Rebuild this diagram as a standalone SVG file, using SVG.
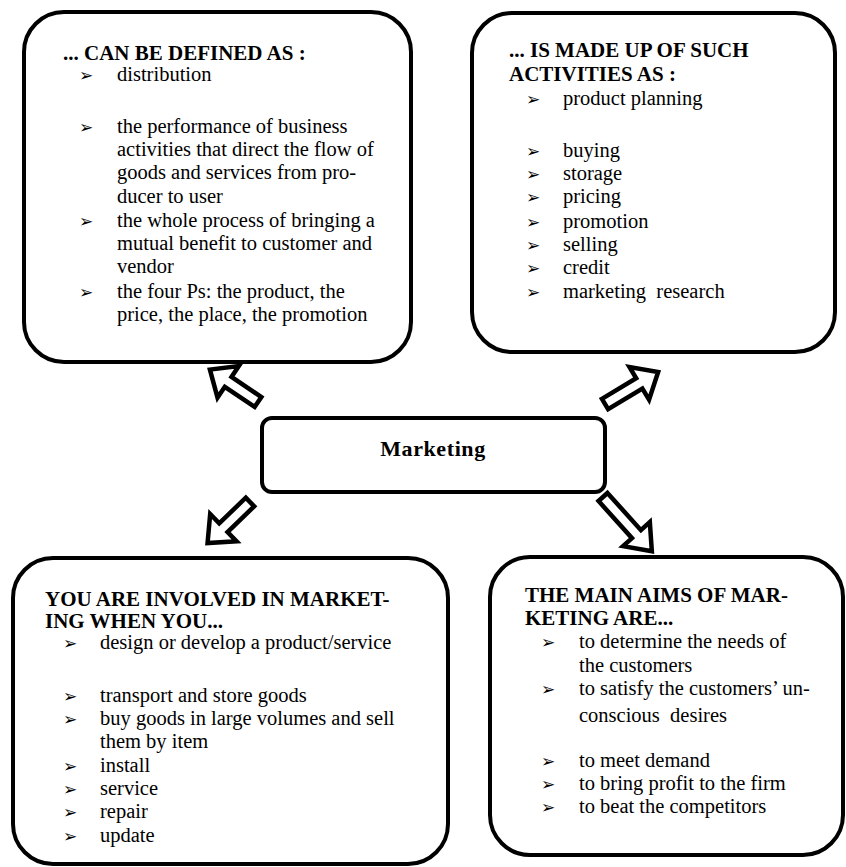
<svg xmlns="http://www.w3.org/2000/svg" width="846" height="867" viewBox="0 0 846 867">
<style>
.box{fill:#fff;stroke:#000;stroke-width:4}
.t{font-family:"Liberation Serif","Times New Roman",serif;font-size:20.5px;fill:#000}
.h{font-family:"Liberation Serif","Times New Roman",serif;font-size:21px;font-weight:bold;fill:#000}
.m{font-family:"Liberation Serif","Times New Roman",serif;font-size:22px;font-weight:bold;letter-spacing:0.6px;fill:#000}
.b{font-family:"DejaVu Sans",sans-serif;font-size:17px;font-weight:bold;fill:#000}
.arr{fill:#fff;stroke:#000;stroke-width:4.5;stroke-linejoin:miter}
</style>
<rect width="846" height="867" fill="#fff"/>
<g id="connectors">
<polygon class="arr" transform="translate(258,402) rotate(214)" points="0,-6 36,-6 36,-19 58,0 36,19 36,6 0,6"/>
<polygon class="arr" transform="translate(605,404) rotate(-31)" points="0,-6 40,-6 40,-19 62,0 40,19 40,6 0,6"/>
<polygon class="arr" transform="translate(250,502) rotate(136)" points="0,-6 37,-6 37,-19 59,0 37,19 37,6 0,6"/>
<polygon class="arr" transform="translate(603,497) rotate(48)" points="0,-6 50,-6 50,-18 73,0 50,18 50,6 0,6"/>
</g>
<g id="center">
<rect class="box" x="262" y="418" width="343" height="74" rx="10"/>
<text class="m" x="433" y="456" text-anchor="middle">Marketing</text>
</g>
<g id="defined">
<rect class="box" x="24" y="12" width="387" height="350" rx="40"/>
<text class="h" x="63" y="60">... CAN BE DEFINED AS :</text>
<text class="b" x="79" y="81">➢</text><text class="t" x="117" y="81">distribution</text>
<text class="b" x="79" y="133">➢</text><text class="t" x="117" y="133">the performance of business</text>
<text class="t" x="117" y="156">activities that direct the flow of</text>
<text class="t" x="117" y="179">goods and services from pro-</text>
<text class="t" x="117" y="203">ducer to user</text>
<text class="b" x="79" y="227">➢</text><text class="t" x="117" y="227">the whole process of bringing a</text>
<text class="t" x="117" y="250">mutual benefit to customer and</text>
<text class="t" x="117" y="273">vendor</text>
<text class="b" x="79" y="298">➢</text><text class="t" x="117" y="298">the four Ps: the product, the</text>
<text class="t" x="117" y="321">price, the place, the promotion</text>
</g>
<g id="activities">
<rect class="box" x="472" y="13" width="363" height="339" rx="40"/>
<text class="h" x="509" y="57">... IS MADE UP OF SUCH</text>
<text class="h" x="509" y="81">ACTIVITIES AS :</text>
<text class="b" x="526" y="105">➢</text><text class="t" x="563" y="105">product planning</text>
<text class="b" x="526" y="157">➢</text><text class="t" x="563" y="157">buying</text>
<text class="b" x="526" y="180">➢</text><text class="t" x="563" y="180">storage</text>
<text class="b" x="526" y="203">➢</text><text class="t" x="563" y="203">pricing</text>
<text class="b" x="526" y="228">➢</text><text class="t" x="563" y="228">promotion</text>
<text class="b" x="526" y="251">➢</text><text class="t" x="563" y="251">selling</text>
<text class="b" x="526" y="274">➢</text><text class="t" x="563" y="274">credit</text>
<text class="b" x="526" y="298">➢</text><text class="t" x="563" y="298" xml:space="preserve">marketing  research</text>
</g>
<g id="involved">
<rect class="box" x="13" y="558" width="435" height="306" rx="40"/>
<text class="h" x="45" y="606">YOU ARE INVOLVED IN MARKET-</text>
<text class="h" x="45" y="628">ING WHEN YOU...</text>
<text class="b" x="63" y="649">➢</text><text class="t" x="100" y="649">design or develop a product/service</text>
<text class="b" x="63" y="702">➢</text><text class="t" x="100" y="702">transport and store goods</text>
<text class="b" x="63" y="725">➢</text><text class="t" x="100" y="725">buy goods in large volumes and sell</text>
<text class="t" x="100" y="748">them by item</text>
<text class="b" x="63" y="772">➢</text><text class="t" x="100" y="772">install</text>
<text class="b" x="63" y="795">➢</text><text class="t" x="100" y="795">service</text>
<text class="b" x="63" y="818">➢</text><text class="t" x="100" y="818">repair</text>
<text class="b" x="63" y="842">➢</text><text class="t" x="100" y="842">update</text>
</g>
<g id="aims">
<rect class="box" x="490" y="557" width="353" height="298" rx="40"/>
<text class="h" x="525" y="602">THE MAIN AIMS OF MAR-</text>
<text class="h" x="525" y="625">KETING ARE...</text>
<text class="b" x="541" y="648">➢</text><text class="t" x="579" y="648">to determine the needs of</text>
<text class="t" x="579" y="672">the customers</text>
<text class="b" x="541" y="695">➢</text><text class="t" x="579" y="695">to satisfy the customers’ un-</text>
<text class="t" x="579" y="722" xml:space="preserve">conscious  desires</text>
<text class="b" x="541" y="767">➢</text><text class="t" x="579" y="767">to meet demand</text>
<text class="b" x="541" y="790">➢</text><text class="t" x="579" y="790">to bring profit to the firm</text>
<text class="b" x="541" y="813">➢</text><text class="t" x="579" y="813">to beat the competitors</text>
</g>
</svg>
